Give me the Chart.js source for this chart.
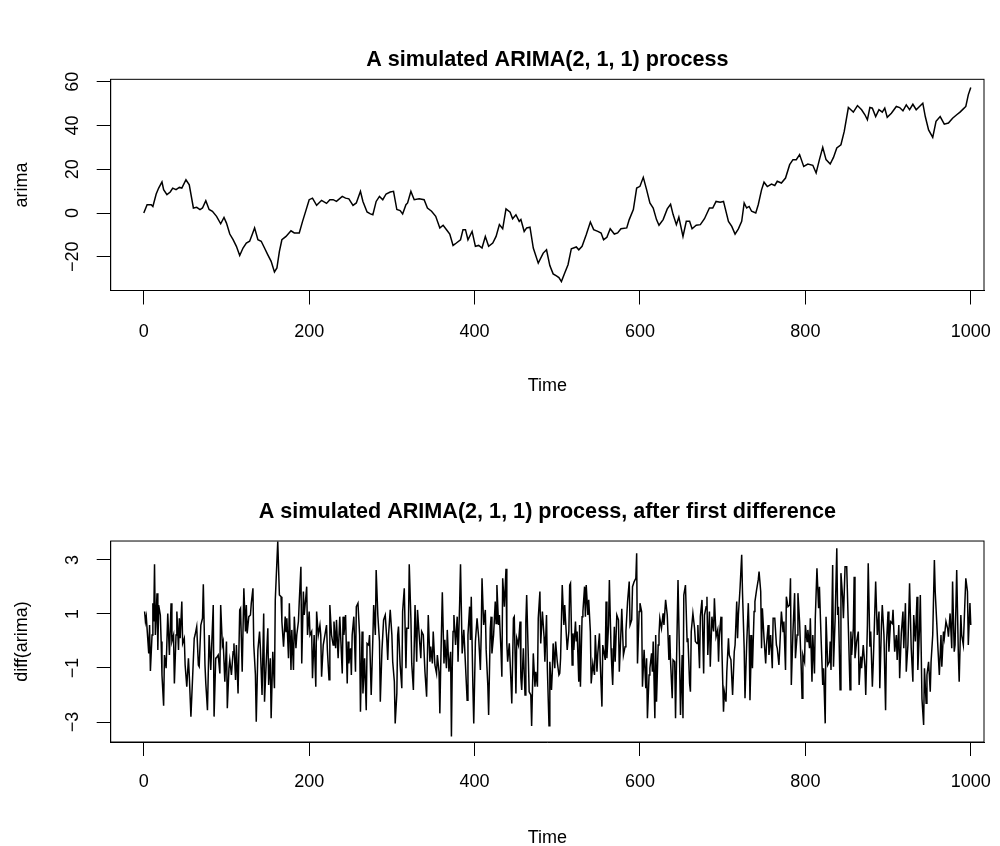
<!DOCTYPE html>
<html>
<head>
<meta charset="utf-8">
<title>ARIMA(2, 1, 1)</title>
<script src="https://cdn.jsdelivr.net/npm/chart.js@4.4.1/dist/chart.umd.min.js"></script>
<style>
  html, body { margin: 0; padding: 0; background: #fff; overflow: hidden; }
  #pagina { position: relative; width: 1000px; height: 846px; }
  canvas { position: absolute; left: 0; }
  #graficoArima { top: 0; }
  #graficoDiff { top: 423px; }
</style>
</head>
<body>
<div id="pagina">
  <canvas id="graficoArima" width="1000" height="423"></canvas>
  <canvas id="graficoDiff" width="1000" height="423"></canvas>
</div>
<script>
// valores
var xTicks = [0, 200, 400, 600, 800, 1000];

var arimaTicks = [-20, 0, 20, 40, 60];
var arimaTickLabels = ['\u221220', '0', '20', '40', '60'];

var arimaTempo = [
  0, 4, 9, 11, 15, 18, 22, 24, 28, 32, 35, 39, 43, 46, 51, 55, 60, 64, 68, 71,
  75, 79, 83, 88, 93, 97, 100, 104, 108, 112, 116, 120, 124, 128, 131, 134, 138, 142, 146, 150,
  154, 158, 161, 164, 167, 172, 178, 182, 188, 192, 196, 200, 204, 209, 215, 221, 225, 229, 233, 240,
  244, 248, 253, 257, 262, 265, 270, 274, 277, 281, 285, 289, 293, 298, 302, 306, 310, 313, 317, 319,
  323, 327, 333, 339, 343, 348, 353, 358, 362, 367, 370, 374, 378, 383, 386, 389, 392, 397, 401, 405,
  409, 413, 417, 422, 426, 430, 434, 438, 443, 446, 450, 454, 456, 460, 463, 467, 471, 477, 483, 487,
  491, 495, 499, 502, 505, 509, 513, 517, 523, 526, 530, 535, 540, 544, 549, 553, 556, 560, 564, 569,
  573, 577, 584, 587, 592, 596, 600, 604, 608, 612, 616, 620, 623, 628, 633, 637, 640, 644, 647, 652,
  656, 660, 663, 668, 673, 678, 684, 688, 692, 697, 701, 707, 711, 715, 719, 723, 726, 729, 732, 735,
  740, 743, 747, 750, 754, 759, 763, 766, 771, 776, 781, 785, 789, 793, 798, 803, 809, 813, 817, 821,
  825, 830, 834, 838, 843, 847, 852, 855, 858, 863, 868, 872, 875, 878, 881, 885, 889, 893, 896, 899,
  904, 910, 914, 918, 922, 926, 930, 934, 938, 942, 945, 949, 954, 958, 963, 968, 973, 978, 983, 987,
  991, 994, 997, 1000
];
var arimaValores = [
  0, 3.8, 3.8, 3.0, 8.7, 11.4, 14.2, 10.7, 8.4, 9.6, 11.4, 10.7, 11.7, 11.4, 15.2, 12.9, 2.3, 2.6, 1.6, 2.3,
  5.6, 1.6, 0.8, -1.5, -4.9, -2.0, -4.6, -9.6, -12.2, -15.2, -19.4, -16.0, -13.7, -12.9, -9.9, -6.8, -12.2, -12.9, -16.0, -19.1,
  -22.1, -26.9, -25.1, -17.5, -12.2, -10.7, -8.1, -9.1, -9.1, -3.8, 1.1, 6.1, 6.8, 3.5, 5.8, 4.4, 6.1, 6.1, 5.3, 7.6,
  6.8, 6.5, 3.5, 4.6, 9.9, 5.3, 0.5, -0.4, -0.8, 5.3, 7.6, 6.1, 8.7, 9.6, 9.9, 1.6, 1.1, -0.4, 3.8, 4.6,
  9.9, 6.1, 6.5, 6.1, 2.3, 0.8, -1.5, -6.8, -5.6, -8.1, -9.6, -14.8, -13.7, -12.2, -7.6, -7.6, -12.2, -8.4, -15.2, -14.8,
  -16.0, -10.7, -15.2, -13.7, -10.7, -5.3, -7.2, 1.9, 0.4, -2.6, -0.8, -3.8, -3.0, -8.4, -6.8, -6.5, -16.0, -22.9, -18.3, -16.8,
  -24.0, -27.8, -28.7, -29.5, -31.3, -27.4, -23.6, -16.3, -15.5, -16.8, -15.2, -9.9, -4.1, -7.6, -8.4, -9.1, -12.2, -11.1, -7.2, -9.6,
  -9.1, -7.2, -6.8, -3.0, 1.6, 11.4, 12.2, 16.3, 10.7, 4.6, 2.3, -3.0, -5.6, -3.0, 1.9, 4.0, -0.6, -5.3, -1.9, -10.7,
  -3.8, -3.8, -7.2, -5.6, -5.3, -2.6, 2.3, 2.3, 5.3, 4.9, 5.3, -3.8, -6.1, -9.6, -7.2, -3.8, 4.6, 2.3, 3.0, 0.8,
  0.0, 3.8, 10.6, 14.1, 12.1, 13.2, 12.6, 14.5, 13.7, 16.0, 22.1, 24.4, 24.4, 26.7, 21.3, 22.4, 21.8, 18.3, 24.4, 30.0,
  24.4, 22.4, 25.4, 29.7, 31.2, 37.3, 48.2, 47.2, 46.1, 49.1, 47.2, 44.9, 42.6, 48.2, 47.9, 44.1, 47.2, 46.1, 47.9, 43.7,
  45.6, 48.7, 48.2, 46.7, 49.4, 47.2, 49.7, 47.2, 48.7, 50.2, 44.1, 38.0, 34.6, 41.9, 44.1, 40.6, 41.1, 43.3, 44.9, 46.1,
  47.6, 48.7, 54.0, 57.4
];

var diffTicks = [-3, -1, 1, 3];
var diffTickLabels = ['\u22123', '\u22121', '1', '3'];

var diffTempo = [
  1, 2, 3, 6, 7, 8, 10, 11, 12, 13,
  14, 16, 17, 18, 20, 21, 22, 24, 25, 27,
  29, 31, 33, 34, 36, 37, 39, 40, 42, 43,
  44, 46, 47, 49, 50, 52, 54, 55, 57, 59,
  61, 62, 64, 66, 67, 69, 71, 72, 74, 75,
  77, 79, 81, 82, 84, 85, 87, 88, 90, 92,
  93, 95, 96, 98, 100, 101, 103, 104, 106, 108,
  109, 111, 112, 114, 116, 117, 119, 121, 123, 124,
  125, 127, 129, 130, 132, 133, 135, 136, 138, 140,
  141, 143, 145, 146, 148, 150, 151, 153, 154, 156,
  158, 159, 162,
  164, 166, 167, 169, 171, 172, 173, 175, 176, 178,
  179, 181, 182, 184, 185, 187, 188, 190, 191, 193,
  194, 196, 197, 198, 200, 201, 203, 204, 206, 208,
  209, 211, 213, 214, 215, 217, 219, 221, 222, 224,
  225, 227, 229, 230, 232, 233, 235, 237, 238, 240,
  241, 242, 244, 246, 247, 248, 250, 251, 252, 254,
  256, 257, 259, 261, 262, 264, 265, 267, 269, 270,
  272, 273, 275, 277, 278, 280, 281, 283, 285, 286,
  288, 289, 290, 292, 294, 295, 296, 298, 300, 301,
  303, 304, 306, 307, 308, 310, 312, 313, 315, 317,
  318, 320, 321, 323, 324, 326, 328, 330, 331, 333,
  335, 336, 338, 340, 342, 344, 346, 347, 349, 350,
  352, 354, 355, 357, 358, 359, 361, 363, 364, 366,
  367, 369, 371, 372, 373, 374, 375, 377, 379, 380,
  382, 383, 385, 387, 389, 391, 392, 394, 395, 396,
  398, 399, 401, 403, 405, 407, 408, 409, 411, 413,
  414, 416, 417, 419, 420, 421, 423, 425, 426, 427,
  429, 430, 432, 433, 434, 436, 438, 439, 440, 442,
  444, 445, 447, 448, 450, 451, 453, 455, 456, 457,
  459, 461, 462, 463, 465, 466, 468, 469, 471, 473,
  474, 476, 477, 479, 480, 482, 484, 485, 487, 488,
  490, 491, 493, 494, 495, 497, 498, 500, 502,
  503, 504, 506, 508, 509, 511, 512, 514, 515, 516,
  518, 519, 520, 522, 523, 524, 526, 527, 528, 530,
  531, 533, 534, 535, 537, 538, 540, 541, 543, 545,
  546, 548, 549, 551, 552, 554, 555, 558, 559, 560,
  562, 563, 565, 566, 567, 569, 570, 572, 574, 575,
  577, 578, 580, 582, 583, 585, 587, 588, 590, 591,
  593, 595, 596, 597, 599, 600, 602, 603, 605, 607,
  608, 609, 611, 612, 614, 615, 616, 618, 619, 620,
  622, 623, 624, 626, 628, 629, 631, 633, 635, 636,
  637, 639, 640, 642, 643, 645, 646, 648, 649, 651,
  652, 653, 655, 657, 658, 660, 661, 662, 664, 666,
  667, 669, 670,
  672, 673, 675, 677, 678, 680, 681, 682, 684, 685,
  687, 689, 690, 692, 694, 695, 696, 698, 699, 701,
  702, 704, 705, 707, 708, 710, 712, 714, 715, 717,
  718, 719, 721, 723, 724, 726, 727, 729, 731, 732,
  733, 735, 736, 738, 739, 741, 743, 744, 746, 747,
  748, 750, 752, 753, 755, 756, 758, 760, 761, 763,
  765, 766, 768, 769, 771, 773, 774, 776, 777, 779,
  781, 782, 783, 785, 787, 788, 790, 791, 793, 795,
  796, 797, 799, 800, 802, 803, 805, 806, 808, 809,
  811, 812, 814, 816, 817, 819, 821, 822, 824, 825,
  827, 829, 830, 831, 833, 834, 836, 838, 839, 840,
  842, 843, 845, 846, 848, 850, 852, 854, 855, 856,
  858, 859, 860, 862, 864, 865, 867, 868, 870, 872,
  873, 875, 876, 878, 879, 881, 882, 883, 885, 887,
  889, 890, 892, 893, 895, 897, 898, 900, 901, 903,
  905, 906, 908, 910, 911, 913, 914, 916, 918, 919,
  921, 922, 924, 926, 928, 930, 931, 933, 935, 936,
  938, 939, 941, 943, 944, 946, 947, 949, 951, 952,
  954, 956, 957, 959, 960, 962, 964, 965, 967, 968,
  970, 972, 973, 975, 977, 978, 980, 981, 983, 985,
  986, 988, 989, 991, 993, 994, 996, 997, 999, 1000
];
var diffValores = [
  1.09, 0.72, 0.90, -0.46, 0.59, -1.11, 0.22, 1.40, 0.72, 2.84,
  0.22, 1.77, -0.33, 1.33, 0.96, -0.02, -1.26, -2.40, -0.52, -1.01,
  1.02, -0.52, 1.40, -0.02, 0.22, -1.57, 0.22, 1.09, -0.33, 0.84,
  0.10, 1.46, -0.09, 0.10, -0.89, -1.69, -0.64, -1.26, -2.80, -1.38,
  0.10, 0.22, 0.53, -0.89, -0.95, 0.59, 0.84, 2.10, -0.89, -1.57,
  -2.56, 0.22, -1.07, -0.27, 1.33, -2.80, -0.64, -0.62, -0.52, -1.20,
  1.33, -0.15, -0.02, -1.51, -0.02, -2.49, -1.01, -0.70, -1.26, -0.40,
  -0.09, -1.44, -0.15, -1.94, 1.15, 1.21, -1.14, 1.95, 0.35, 1.33,
  0.28, 0.90, 0.96, 1.40, 1.95, -0.15, -1.26, -2.99, -0.33, 0.35,
  -0.27, -2.00, 1.02, -2.25, -0.83, 0.47, -1.63, -0.64, -2.86, -0.40,
  -1.75, 1.52, 3.68,
  1.70, 1.64, 0.72, -0.21, 0.90, 0.35, 0.84, -0.64, 1.40, -1.07,
  0.41, -1.07, 0.90, -0.27, 0.22, 0.72, 1.46, 2.75, -0.83, 1.83,
  0.96, 1.64, 2.01, 0.22, 1.09, 0.22, 0.35, -1.38, 0.22, -1.69,
  1.09, 0.22, 0.59, 0.22, -1.32, -0.15, 0.22, 0.59, -0.33, -1.44,
  1.33, 0.22, -0.15, 0.72, -0.27, 0.78, -0.64, 0.90, 0.22, -1.20,
  0.90, 0.22, 0.96, -1.57, -0.02, -0.83, -0.27, -1.26, 0.22, 0.90,
  -1.14, 1.27, 1.40, 0.22, -2.62, 0.35, -1.94, -0.64, -2.56, -0.09,
  -0.15, 0.22, -2.00, 0.10, 1.33, 0.22, 2.63, 0.96, -0.02, -2.25,
  -0.33, 0.22, 0.78, 0.96, -0.02, -0.70, 0.22, 1.15, 0.22, -0.77,
  -1.51, -3.05, -1.94, 0.22, 0.53, -0.89, -1.75, 1.09, 1.95, -1.01,
  0.47, 0.47, 2.84, 0.84, -0.83, -1.81, 1.33, -0.77, 1.15, 0.22,
  -0.64, 0.35, 0.22, -1.14, -2.06, 0.96, -0.77, -0.21, -0.83, 0.35,
  -0.89, -1.20, -0.52, -1.14, -2.68, -1.01, 1.80, -0.83, 0.04, -1.01,
  0.41, -1.14, -0.40, -3.54, -1.01, 0.35, 0.96, -0.15, 0.90, -0.77,
  1.46, 2.84, -0.46, 0.41, -0.89, -2.19, 0.22, 1.27, 0.04, 1.64,
  -1.75, -3.05, -0.02, 0.84, 0.10, -1.07, 0.22, 2.32, 0.59, 1.15,
  -0.33, -1.63, -2.74, 0.47, 0.90, -0.46, 0.22, 1.46, 0.65, 2.07,
  0.59, 0.96, -0.40, -1.32, 2.32, 1.27, 2.67, -0.09, -0.77, -0.09,
  -1.51, -2.31, 0.84, 0.90, -1.94, 0.10, -0.15, 0.72, -1.38, -1.81,
  -0.27, -2.00, 0.72, 1.70, -0.64, -1.88, -2.00, -3.15, -0.46, -1.69,
  -1.14, -1.69, 0.84, 1.83, -0.09, 1.09, 0.16, -0.77, 0.96, -1.01,
  -3.14, -0.77, -1.81, -1.14, -0.09, -1.01, -0.02, -0.77, -1.26,
  -1.20, -0.64, 2.07, 0.59, 1.33, 0.22, -0.33, 0.35, 2.07, 2.14,
  -0.89, 0.28, -0.33, 0.72, -0.02, 0.35, -1.51, 0.59, -1.69, 0.90,
  1.09, 2.01, 0.90, 2.07, 0.96, 1.52, 0.35, -1.57, -0.83, -1.26,
  0.22, -1.14, -0.46, 0.28, -0.83, -2.43, -0.15, -0.70, 1.46, -0.64,
  0.59, 2.26, -0.27, -1.01, -1.63, 0.53, -0.77, 0.96, 0.78, -1.14,
  0.35, 1.19, -0.52, -0.21, 0.35, 1.46, 2.20, 0.59, 0.78, 2.01,
  2.20, 2.32, 3.25, -0.83, 1.09, 1.40, 1.09, -1.69, -0.33, -1.75,
  -0.64, -2.86, -1.26, -1.01, -0.46, -1.14, -0.02, -2.86, 0.22, -2.25,
  -0.15, 0.22, 0.84, 0.47, 1.02, 0.59, 1.52, 0.96, -0.70, 0.22,
  -0.77, -2.12, -0.70, -0.77, -2.86, 0.59, 2.26, -0.89, -2.74, -0.52,
  -2.86, 1.70, 2.07, -0.02, 0.10, -1.57, -1.88, 0.35, 1.02, 0.47,
  -0.02, -0.09, 0.59,
  -1.01, 0.90, 1.52, -1.20, 0.96, 1.27, 1.64, -0.52, 1.09, -0.95,
  0.90, 0.35, 1.58, 0.16, 0.41, -0.77, 0.22, 0.90, -0.21, -2.62,
  -1.88, -2.25, -1.14, 0.10, -0.52, -0.70, -2.00, -0.40, -0.15, 1.46,
  0.10, 0.96, 1.95, 3.19, 1.77, -0.27, -2.12, -0.15, 1.40, 0.22,
  -2.19, 0.22, -1.01, 1.09, 1.46, 1.89, 2.26, 2.57, 1.83, -0.27,
  1.21, 0.10, -0.83, -0.15, 0.59, -0.52, 0.22, -1.01, 0.84, 0.84,
  -0.15, -0.27, -0.89, -0.27, 1.09, 0.35, 0.72, -1.07, 1.64, 1.27,
  1.33, 2.32, -1.63, 0.35, 1.77, -0.64, 0.22, 1.77, 0.72, -1.01,
  -2.12, -0.52, -0.77, 0.59, -0.02, 0.41, -0.27, 0.84, -1.51, 0.22,
  -1.20, 0.84, 2.69, 1.21, 2.01, 0.10, -1.63, -1.01, -3.05, 0.90,
  -0.89, -0.77, -0.02, -1.07, 2.81, -0.95, 0.84, 3.43, 0.96, 1.27,
  -1.81, 2.51, 1.64, 0.84, 2.75, 2.75, 0.47, -1.81, 0.35, -0.52,
  0.47, 2.38, -0.64, -0.02, 0.35, -1.63, -0.58, -1.01, -0.15, -0.95,
  -2.00, 0.59, 2.88, -0.21, 0.35, -1.69, -0.89, 0.10, 2.20, 0.22,
  1.09, -1.75, 0.59, 1.33, 0.22, -2.56, -0.15, 1.09, -0.40, 0.72,
  0.65, 1.15, -0.40, 0.22, -0.70, 0.59, -1.38, 0.28, 1.09, -0.27,
  1.40, -1.14, -0.15, 2.14, -0.27, -1.51, 0.96, -0.02, 1.64, -1.07,
  0.47, 1.70, -2.15, -3.11, -1.01, -2.31, -1.26, -0.77, -1.88, -0.77,
  0.22, 3.00, 1.83, 0.59, -0.09, -1.26, 0.22, -0.95, 0.35, 0.10,
  0.72, 0.47, 0.16, 1.02, -0.27, 2.20, -0.40, -0.15, 2.63, -0.52,
  -1.51, 0.96, 0.22, -0.15, 1.52, 2.32, 1.83, -0.15, 1.40, 0.59
];

var Arima = Arima || {};

Arima.Grafico = (function() {
	var FONTE = '"Liberation Sans", Arial, Helvetica, sans-serif';

	function Grafico(opcoes) {
		this.opcoes = opcoes;
		this.ctx = document.getElementById(opcoes.canvas).getContext('2d');
	}

	// moldura do R e rotulos do eixo y girados
	var molduraR = {
		id: 'molduraR',
		afterDraw: function(chart, args, pluginOpts) {
			var ctx = chart.ctx;
			var area = chart.chartArea;
			var escalaY = chart.scales.y;
			ctx.save();
			ctx.strokeStyle = '#000';
			ctx.lineWidth = 1;
			ctx.strokeRect(area.left, area.top, area.right - area.left, area.bottom - area.top);
			ctx.fillStyle = '#000';
			ctx.font = '18px ' + FONTE;
			ctx.textAlign = 'center';
			ctx.textBaseline = 'middle';
			escalaY.ticks.forEach(function(tick, i) {
				var y = escalaY.getPixelForValue(tick.value);
				ctx.save();
				ctx.translate(area.left - 39, y);
				ctx.rotate(-Math.PI / 2);
				ctx.fillText(pluginOpts.rotulos[i], 0, 1);
				ctx.restore();
			});
			ctx.restore();
		}
	};

	Grafico.prototype.iniciar = function() {
		var o = this.opcoes;
		var pontos = o.tempo.map(function(t, i) {
			return { x: t, y: o.valores[i] };
		});

		return new Chart(this.ctx, {
			type: 'line',
			data: {
				datasets: [{
					data: pontos,
					borderColor: '#000',
					borderWidth: 1.5,
					pointRadius: 0,
					tension: 0,
					fill: false
				}]
			},
			plugins: [molduraR],
			options: {
				responsive: false,
				animation: false,
				events: [],
				layout: { padding: { left: 0, right: 16, top: 0, bottom: 0 } },
				plugins: {
					legend: { display: false },
					tooltip: { enabled: false },
					molduraR: { rotulos: o.rotulosY },
					title: {
						display: true,
						text: o.titulo,
						color: '#000',
						fullSize: false,
						font: { family: FONTE, size: 21.6, weight: 'bold' },
						padding: { top: o.tituloTopo, bottom: o.tituloBase }
					}
				},
				scales: {
					x: {
						type: 'linear',
						position: 'bottom',
						min: -40,
						max: 1016,
						afterBuildTicks: function(escala) {
							escala.ticks = xTicks.map(function(v) { return { value: v }; });
						},
						afterFit: function(escala) {
							escala.height = o.alturaX;
							escala.paddingLeft = 0;
							escala.paddingRight = 0;
						},
						ticks: {
							color: '#000',
							font: { family: FONTE, size: 18 },
							padding: o.folgaRotuloX,
							maxRotation: 0,
							autoSkip: false,
							callback: function(v) { return String(v); }
						},
						grid: { drawOnChartArea: false, drawTicks: true, tickLength: 14, color: '#000', lineWidth: 1 },
						border: { display: true, color: '#000', width: 1 },
						title: {
							display: true,
							text: 'Time',
							color: '#000',
							font: { family: FONTE, size: 18 },
							padding: { top: 0, bottom: o.folgaTime }
						}
					},
					y: {
						type: 'linear',
						position: 'left',
						min: o.yMin,
						max: o.yMax,
						afterBuildTicks: function(escala) {
							escala.ticks = o.ticksY.map(function(v) { return { value: v }; });
						},
						afterFit: function(escala) {
							escala.width = 110.7;
							escala.paddingTop = 0;
							escala.paddingBottom = 0;
						},
						ticks: { display: false },
						grid: { drawOnChartArea: false, drawTicks: true, tickLength: 14, color: '#000', lineWidth: 1 },
						border: { display: true, color: '#000', width: 1 },
						title: {
							display: true,
							text: o.rotuloY,
							color: '#000',
							font: { family: FONTE, size: 18 },
							padding: { top: 10.9, bottom: 0 }
						}
					}
				}
			}
		});
	};

	return Grafico;
})();

window.addEventListener('load', function() {
	var graficoArima = new Arima.Grafico({
		canvas: 'graficoArima',
		titulo: 'A simulated ARIMA(2, 1, 1) process',
		rotuloY: 'arima',
		tempo: arimaTempo,
		valores: arimaValores,
		ticksY: arimaTicks,
		rotulosY: arimaTickLabels,
		yMin: -35.4,
		yMax: 61.1,
		tituloTopo: 47,
		tituloBase: 6.4,
		alturaX: 132.5,
		folgaRotuloX: 16.4,
		folgaTime: 26.2
	});
	graficoArima.iniciar();

	var graficoDiff = new Arima.Grafico({
		canvas: 'graficoDiff',
		titulo: 'A simulated ARIMA(2, 1, 1) process, after first difference',
		rotuloY: 'diff(arima)',
		tempo: diffTempo,
		valores: diffValores,
		ticksY: diffTicks,
		rotulosY: diffTickLabels,
		yMin: -3.74,
		yMax: 3.70,
		tituloTopo: 76,
		tituloBase: 16.1,
		alturaX: 104,
		folgaRotuloX: 15.2,
		folgaTime: -2.8
	});
	graficoDiff.iniciar();
});
</script>
</body>
</html>
